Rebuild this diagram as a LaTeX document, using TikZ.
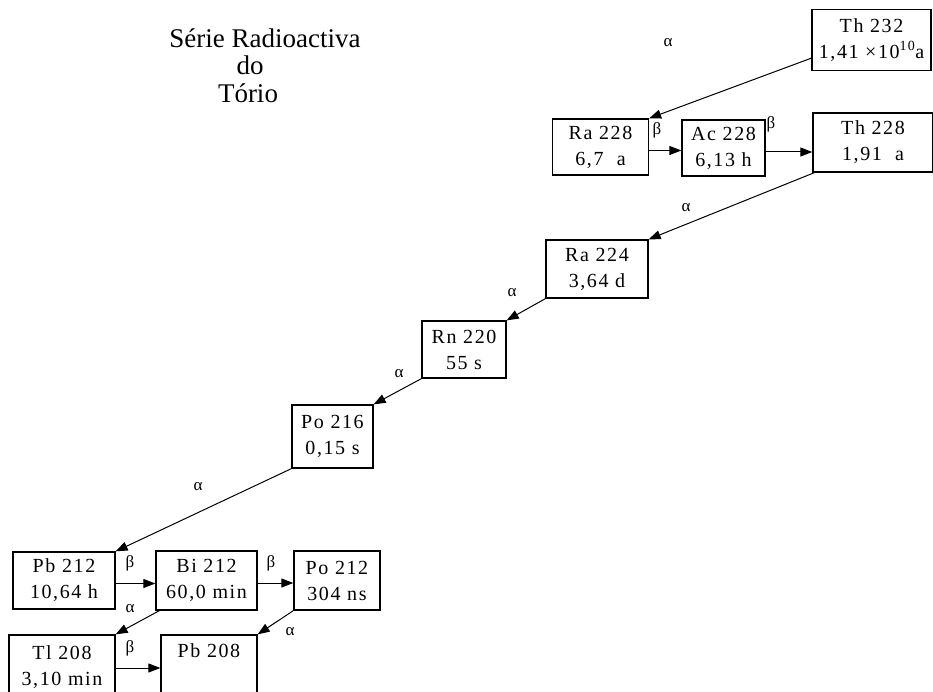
\documentclass[tikz,border=0pt]{standalone}
\usepackage{fontspec}
\setmainfont{Liberation Serif}
\usetikzlibrary{arrows.meta,calc}
\begin{document}
\begin{tikzpicture}[x=1pt,y=-1pt,
  nuclide/.style={draw,line width=1.3pt,inner sep=0pt,align=center,
    font=\fontsize{20}{26}\selectfont\addfontfeatures{LetterSpace=8}},
  decay/.style={line width=1pt,-{Triangle[length=12pt,width=9pt]}},
  lbl/.style={font=\fontsize{17}{18}\selectfont,inner sep=0pt},
  title/.style={font=\fontsize{27}{27}\selectfont,inner sep=0pt,anchor=base}]
\useasboundingbox (0,0) rectangle (933,692);

% title
\node[title] (ttl1) at (265,48) {Série Radioactiva};
\node[title] (ttl2) at (250,75) {do};
\node[title] (ttl3) at (248,103) {Tório};

% nuclides
\node[nuclide,minimum width=119pt,minimum height=61pt] (th232) at (871.5,40) {Th 232\\1,41 ×10\textsuperscript{10}a};
\node[nuclide,minimum width=96pt,minimum height=56pt] (ra228) at (600.5,147) {Ra 228\\6,7\ \ a};
\node[nuclide,minimum width=83pt,minimum height=56pt] (ac228) at (723.5,148) {Ac 228\\6,13 h};
\node[nuclide,minimum width=120pt,minimum height=59pt] (th228) at (873,142.5) {Th 228\\1,91\ \ a};
\node[nuclide,minimum width=102pt,minimum height=58pt] (ra224) at (597,269) {Ra 224\\3,64 d};
\node[nuclide,minimum width=84pt,minimum height=57pt] (rn220) at (464,349.5) {Rn 220\\55 s};
\node[nuclide,minimum width=81pt,minimum height=63pt] (po216) at (332.5,436.5) {Po 216\\0,15 s};
\node[nuclide,minimum width=102pt,minimum height=57pt] (pb212) at (64,580.5) {Pb 212\\10,64 h};
\node[nuclide,minimum width=101pt,minimum height=59pt] (bi212) at (206.5,580.5) {Bi 212\\60,0 min};
\node[nuclide,minimum width=86pt,minimum height=59pt] (po212) at (337,580.5) {Po 212\\304 ns};
\node[nuclide,minimum width=106pt,minimum height=64pt] (tl208) at (62,667) {Tl 208\\3,10 min};
\node[nuclide,minimum width=96pt,minimum height=64pt] (pb208) at (209,667) {Pb 208\\\strut};

% alpha decays
\draw[decay] ([yshift=13pt]th232.south west) -- (ra228.north east);
\draw[decay] ([xshift=2pt]th228.south west) -- (ra224.north east);
\draw[decay] (ra224.south west) -- (rn220.north east);
\draw[decay] (rn220.south west) -- (po216.north east);
\draw[decay] (po216.south west) -- (pb212.north east);
\draw[decay] ([xshift=4pt]bi212.south west) -- (tl208.north east);
\draw[decay] (po212.south west) -- (pb208.north east);

% beta decays
\coordinate (b1) at ($(ra228.east)+(0,3.5)$);
\draw[decay] (b1) -- (b1 -| ac228.west);
\coordinate (b2) at ($(ac228.east)+(0,4)$);
\draw[decay] (b2) -- (b2 -| th228.west);
\coordinate (b3) at ($(pb212.east)+(0,3)$);
\draw[decay] (b3) -- (b3 -| bi212.west);
\coordinate (b4) at ($(bi212.east)+(0,2.5)$);
\draw[decay] (b4) -- (b4 -| po212.west);
\coordinate (b5) at ($(tl208.east)+(0,1)$);
\draw[decay] (b5) -- (b5 -| pb208.west);

% decay labels
\node[lbl] (a1) at (668,43) {α};
\node[lbl] (a2) at (686,208) {α};
\node[lbl] (a3) at (512,293) {α};
\node[lbl] (a4) at (399,374) {α};
\node[lbl] (a5) at (198,487) {α};
\node[lbl] (a6) at (130,609) {α};
\node[lbl] (a7) at (290,632) {α};
\node[lbl] (l1) at (657,130) {β};
\node[lbl] (l2) at (771,124) {β};
\node[lbl] (l3) at (130,563) {β};
\node[lbl] (l4) at (271,563) {β};
\node[lbl] (l5) at (130,648) {β};
\end{tikzpicture}
\end{document}
